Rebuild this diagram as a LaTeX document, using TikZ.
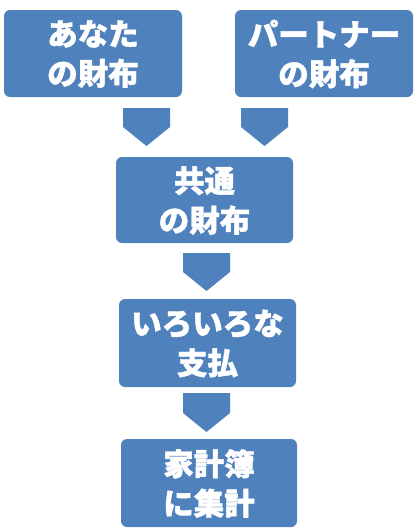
\documentclass[tikz,border=0pt]{standalone}
\usepackage{fontspec}
\newfontfamily\cjk[FakeBold=1.4]{Noto Sans CJK JP}
\begin{document}
\begin{tikzpicture}[x=1pt,y=-1pt,
  box/.style={fill=boxblue,rounded corners=6pt,draw=none},
  lbl/.style={text=white,font=\cjk\bfseries\fontsize{30.5}{39.5}\selectfont,align=center,inner sep=0pt},
  arrowshape/.style={fill=boxblue,draw=none}]
\definecolor{boxblue}{HTML}{4F81BD}
\useasboundingbox (0,0) rectangle (417,531);
% boxes
\fill[box] (4,10) rectangle (182,97);
\node[lbl] (a) at (93,54) {あなた\\の財布};
\fill[box] (235,10) rectangle (413,97);
\node[lbl] (b) at (324,54) {パートナー\\の財布};
\fill[box] (116,157) rectangle (293,243);
\node[lbl] (c) at (204.5,200.5) {共通\\の財布};
\fill[box] (119,299) rectangle (296,387);
\node[lbl] (d) at (207.5,343.5) {いろいろな\\支払};
\fill[box] (121,439) rectangle (297,527);
\node[lbl] (e) at (209,483.5) {家計簿\\に集計};
% arrows
\fill[arrowshape] (123,108) -- (170,108) -- (170,127) -- (146.5,146) -- (123,127) -- cycle;
\fill[arrowshape] (241,108) -- (288,108) -- (288,127) -- (264.5,146) -- (241,127) -- cycle;
\fill[arrowshape] (183,253) -- (230,253) -- (230,272) -- (206.5,291) -- (183,272) -- cycle;
\fill[arrowshape] (183,393) -- (230,393) -- (230,413) -- (206.5,432) -- (183,413) -- cycle;
\end{tikzpicture}
\end{document}
